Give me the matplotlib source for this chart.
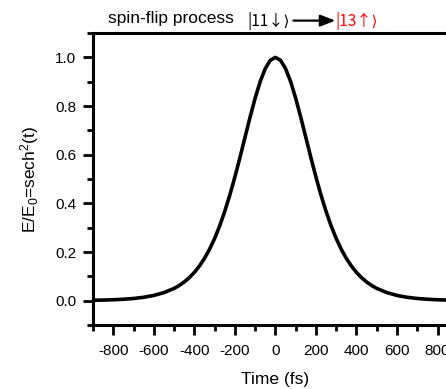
import matplotlib
matplotlib.use("Agg")
import matplotlib.pyplot as plt
from matplotlib.ticker import MultipleLocator

plt.rcParams['font.family'] = ['Liberation Sans', 'DejaVu Sans']
plt.rcParams['mathtext.fontset'] = 'custom'
plt.rcParams['mathtext.rm'] = 'Liberation Sans'
plt.rcParams['mathtext.it'] = 'Liberation Sans:italic'

# Time (fs) and normalised field E/E0
time_fs = [-900, -850, -800, -750, -700, -650, -600, -550, -500, -475, -450, -425,
           -400, -375, -350, -325, -300, -275, -250, -225, -200, -175, -150, -125,
           -100, -75, -50, -25, 0, 25, 50, 75, 100, 125, 150, 175, 200, 225, 250,
           275, 300, 325, 350, 375, 400, 425, 450, 475, 500, 550, 600, 650, 700,
           750, 800, 850, 900]
field = [0.0016, 0.0025, 0.0038, 0.0059, 0.0090, 0.0139, 0.0215, 0.0332, 0.0504,
         0.0623, 0.0768, 0.0946, 0.1162, 0.1423, 0.1737, 0.2112, 0.2555, 0.3072,
         0.3668, 0.4340, 0.5084, 0.5883, 0.6715, 0.7543, 0.8325, 0.9008, 0.9542,
         0.9883, 1.0, 0.9883, 0.9542, 0.9008, 0.8325, 0.7543, 0.6715, 0.5883,
         0.5084, 0.4340, 0.3668, 0.3072, 0.2555, 0.2112, 0.1737, 0.1423, 0.1162,
         0.0946, 0.0768, 0.0623, 0.0504, 0.0332, 0.0215, 0.0139, 0.0090, 0.0059,
         0.0038, 0.0025, 0.0016]

x_ticks = [-800, -600, -400, -200, 0, 200, 400, 600, 800]
y_ticks = [0.0, 0.2, 0.4, 0.6, 0.8, 1.0]

fig = plt.figure(figsize=(4.46, 3.89), dpi=100)
ax = fig.add_axes([0.2085, 0.1645, 0.818, 0.7505])

ax.plot(time_fs, field, color='black', lw=2.6, solid_capstyle='round',
        solid_joinstyle='round')

ax.set_xlim(-900, 900)
ax.set_ylim(-0.1, 1.1)
ax.set_xticks(x_ticks)
ax.set_xticklabels([f"{v}" for v in x_ticks])
ax.set_yticks(y_ticks)
ax.set_yticklabels([f"{v:.1f}" for v in y_ticks])
ax.xaxis.set_minor_locator(MultipleLocator(100))
ax.yaxis.set_minor_locator(MultipleLocator(0.1))

for s in ax.spines.values():
    s.set_linewidth(2.2)
ax.tick_params(which='major', direction='out', length=7, width=2, labelsize=11, pad=5)
ax.tick_params(axis='x', which='major', pad=7)
ax.tick_params(which='minor', direction='out', length=4.5, width=2)
ax.tick_params(axis='y', which='both', right=False)
ax.tick_params(axis='x', which='both', top=False)

ax.set_xlabel('Time (fs)', fontsize=12.5, labelpad=10)
ax.set_ylabel(r'E/E$_0$=sech$^2$(t)', fontsize=12.5, labelpad=10)

fig.text(0.242, 0.953, 'spin-flip process', fontsize=12.5, ha='left', va='center')
ket_font = ['Noto Sans CJK SC', 'DejaVu Sans']
fig.text(0.555, 0.947, '|11↓⟩', fontsize=11, ha='left', va='center', family=ket_font)
fig.text(0.751, 0.947, '|13↑⟩', fontsize=11, ha='left', va='center', color='red',
         family=ket_font)
fig.patches.append(matplotlib.patches.FancyArrowPatch(
    (0.658, 0.947), (0.752, 0.947), transform=fig.transFigure,
    arrowstyle='-|>,head_length=0.9,head_width=0.35', mutation_scale=10, lw=1.6,
    color='black', shrinkA=0, shrinkB=0))

fig.savefig('out.png', dpi=100)
